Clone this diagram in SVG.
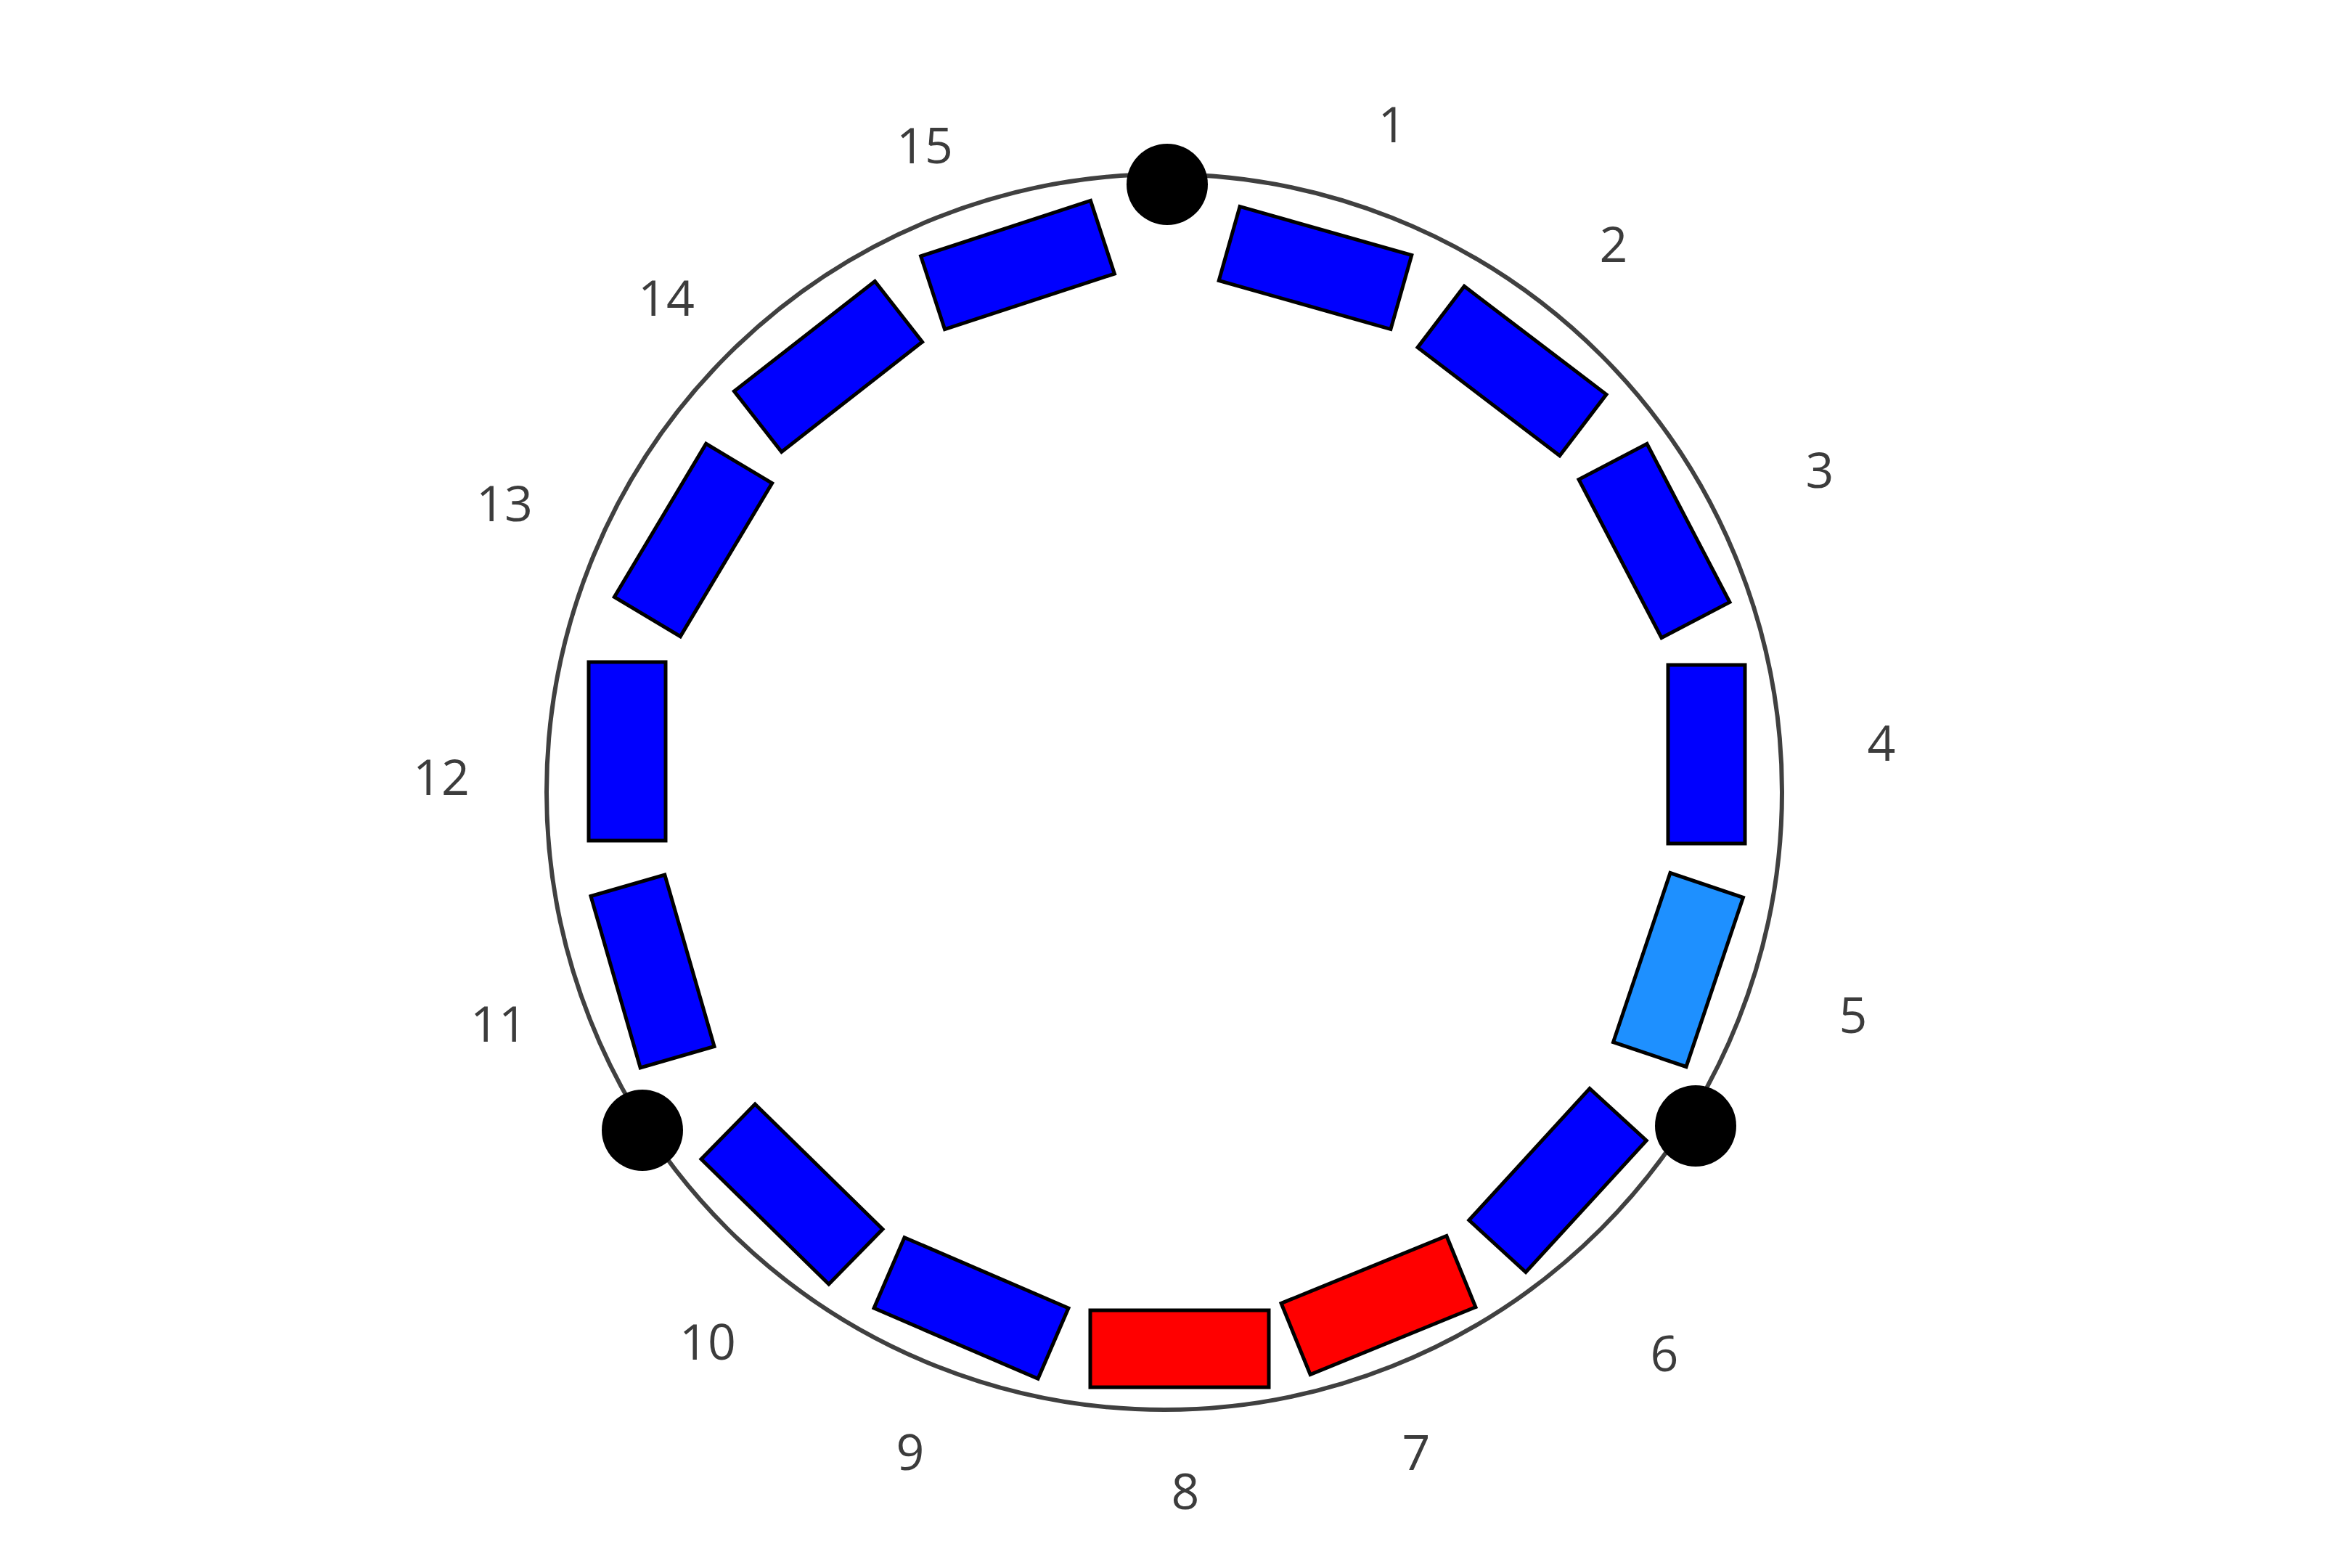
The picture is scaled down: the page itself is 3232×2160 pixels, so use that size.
<svg xmlns="http://www.w3.org/2000/svg" width="3232" height="2160" viewBox="0 0 3232 2160">
<style>
.ring{fill:none;stroke:#404040;stroke-width:6}
.seg{stroke:#000;stroke-width:5}
.b{fill:#0000ff}
.lb{fill:#1e90ff}
.r{fill:#ff0000}
.dot{fill:#000}
.lbl{font-family:"Open Sans","Noto Sans","Liberation Sans",sans-serif;font-size:68px;fill:#3c3c3c;text-anchor:middle;dominant-baseline:central}
</style>
<defs>
<rect id="s" x="-123" y="-53" width="246" height="106"/>
</defs>
<rect width="3232" height="2160" fill="#fff"/>
<g id="connectors">
<circle class="ring" cx="1604" cy="1091" r="851"/>
</g>
<g id="seg1"><use href="#s" class="seg b" transform="translate(1812,369) rotate(15.8)"/><text class="lbl" x="1918" y="169">1</text></g>
<g id="seg2"><use href="#s" class="seg b" transform="translate(2083,511) rotate(37.3)"/><text class="lbl" x="2223" y="334">2</text></g>
<g id="seg3"><use href="#s" class="seg b" transform="translate(2279,745) rotate(62.4)"/><text class="lbl" x="2507" y="645">3</text></g>
<g id="seg4"><use href="#s" class="seg b" transform="translate(2351,1039) rotate(90)"/><text class="lbl" x="2592" y="1021">4</text></g>
<g id="seg5"><use href="#s" class="seg lb" transform="translate(2312,1336) rotate(108.6)"/><text class="lbl" x="2553" y="1396">5</text></g>
<g id="seg6"><use href="#s" class="seg b" transform="translate(2146,1626) rotate(132.5)"/><text class="lbl" x="2293" y="1862">6</text></g>
<g id="seg7"><use href="#s" class="seg r" transform="translate(1899,1798) rotate(157.8)"/><text class="lbl" x="1951" y="1998">7</text></g>
<g id="seg8"><use href="#s" class="seg r" transform="translate(1625,1858) rotate(180)"/><text class="lbl" x="1633" y="2052">8</text></g>
<g id="seg9"><use href="#s" class="seg b" transform="translate(1338,1802) rotate(203.3)"/><text class="lbl" x="1254" y="1998">9</text></g>
<g id="seg10"><use href="#s" class="seg b" transform="translate(1091,1645) rotate(224.4)"/><text class="lbl" x="975" y="1846">10</text></g>
<g id="seg11"><use href="#s" class="seg b" transform="translate(899,1338) rotate(253.9)"/><text class="lbl" x="687" y="1408">11</text></g>
<g id="seg12"><use href="#s" class="seg b" transform="translate(864,1035) rotate(270)"/><text class="lbl" x="608" y="1068">12</text></g>
<g id="seg13"><use href="#s" class="seg b" transform="translate(955,744) rotate(300.9)"/><text class="lbl" x="695" y="691">13</text></g>
<g id="seg14"><use href="#s" class="seg b" transform="translate(1141,505) rotate(322)"/><text class="lbl" x="918" y="408">14</text></g>
<g id="seg15"><use href="#s" class="seg b" transform="translate(1402,365) rotate(341.9)"/><text class="lbl" x="1274" y="198">15</text></g>
<g id="node-top"><circle class="dot" cx="1608" cy="254" r="56"/></g>
<g id="node-right"><circle class="dot" cx="2336" cy="1551" r="56"/></g>
<g id="node-left"><circle class="dot" cx="885" cy="1557" r="56"/></g>
</svg>
